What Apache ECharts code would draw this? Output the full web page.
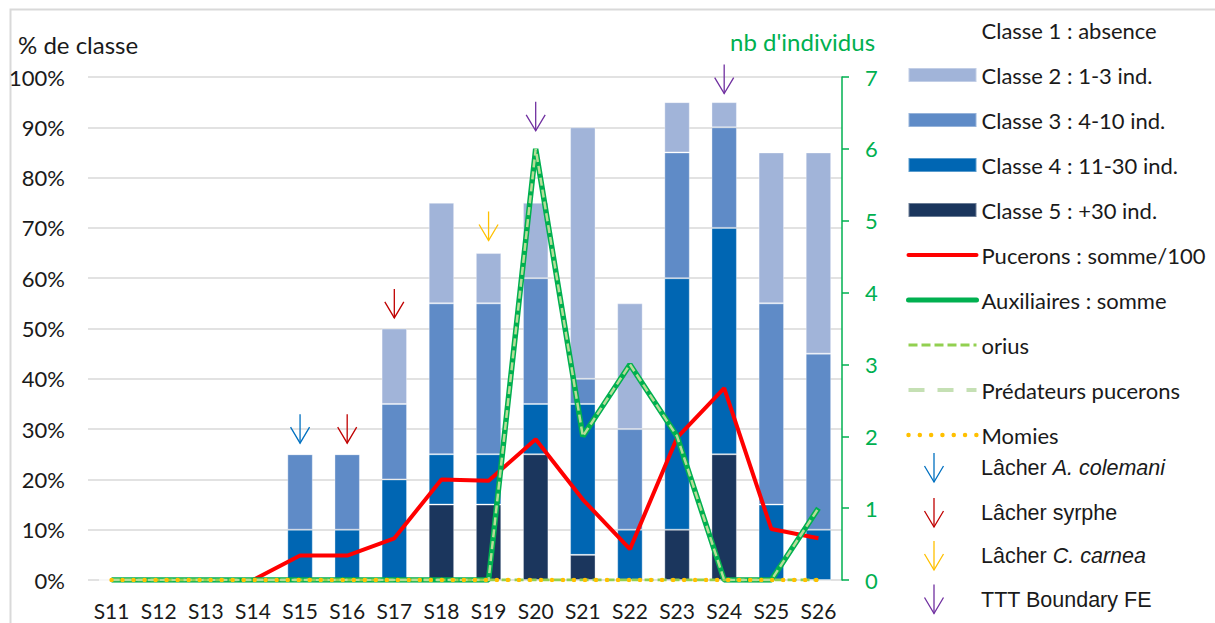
<!DOCTYPE html>
<html>
<head>
<meta charset="utf-8">
<style>html,body{margin:0;padding:0;background:#fff}#c{width:1215px;height:623px}</style>
<script src="https://cdn.jsdelivr.net/npm/echarts@6/dist/echarts.min.js"></script>
</head>
<body>
<div id="c"></div>
<script>
// ---- data ----
const categories = ['S11','S12','S13','S14','S15','S16','S17','S18','S19','S20','S21','S22','S23','S24','S25','S26'];
const classe2 = [0,0,0,0,0,0,15,20,10,15,50,25,10,5,30,40];
const classe3 = [0,0,0,0,15,15,15,30,30,25,5,20,25,20,40,35];
const classe4 = [0,0,0,0,10,10,20,10,10,10,30,10,50,45,15,10];
const classe5 = [0,0,0,0,0,0,0,15,15,25,5,0,10,25,0,0];
const pucerons = [0,0,0,0,0.34,0.34,0.58,1.40,1.38,1.96,1.12,0.43,1.98,2.67,0.71,0.58];
const auxiliaires = [0,0,0,0,0,0,0,0,0,6,2,3,2,0,0,1];
const orius = [0,0,0,0,0,0,0,0,0,0,0,0,0,0,0,0];
const predateurs = [0,0,0,0,0,0,0,0,0,6,2,3,2,0,0,1];
const momies = [0,0,0,0,0,0,0,0,0,0,0,0,0,0,0,0];
const lacherColemani = [['S15', 27.2]];
const lacherSyrphe = [['S16', 27.2], ['S17', 52.1]];
const lacherCarnea = [['S19', 67.5]];
const tttBoundary = [['S20', 89.3], ['S24', 96.7]];
const leftTicks = {min: 0, max: 100, interval: 10};
const rightTicks = {min: 0, max: 7, interval: 1};
const arrowLegendLabels = [
  ['{n|Lâcher }{i|A. colemani}', '#0070c0'],
  ['{n|Lâcher syrphe}', '#c00000'],
  ['{n|Lâcher }{i|C. carnea}', '#ffc000'],
  ['{n|TTT Boundary FE}', '#7030a0']
];

const FONT = 'Lato';
const GREEN = '#00b050';
const TXT = '#1a1a1a';

const rectIcon = 'path://M0,0L68,0L68,14L0,14Z';
const noDot = {opacity: 0};

function arrowRender(params, api) {
  const p = api.coord([api.value(0), api.value(1)]);
  const c = api.visual('color');
  return {
    type: 'group',
    children: [
      {type: 'line', shape: {x1: p[0], y1: p[1] - 29, x2: p[0], y2: p[1]}, style: {stroke: c, lineWidth: 1.3}},
      {type: 'polyline', shape: {points: [[p[0] - 9.5, p[1] - 16], [p[0], p[1]], [p[0] + 9.5, p[1] - 16]]}, style: {stroke: c, fill: null, lineWidth: 1.3}}
    ]
  };
}

// arrow legend drawn as graphic (icon + real text)
const arrowLegendCenters = [468, 513, 556, 599.5];
const richStyles = {
  n: {fontFamily: 'Liberation Sans', fontSize: 21.5, fill: TXT},
  i: {fontFamily: 'Liberation Sans', fontSize: 21.5, fill: TXT, fontStyle: 'italic'}
};
const arrowLegendGraphics = arrowLegendLabels.map(function (it, k) {
  const cy = arrowLegendCenters[k], cx = 934, c = it[1];
  return {
    type: 'group',
    children: [
      {type: 'line', shape: {x1: cx, y1: cy - 15, x2: cx, y2: cy + 14}, style: {stroke: c, lineWidth: 1.3}},
      {type: 'polyline', shape: {points: [[cx - 9.5, cy - 2], [cx, cy + 14], [cx + 9.5, cy - 2]]}, style: {stroke: c, fill: null, lineWidth: 1.3}},
      {type: 'text', x: 981, y: cy, style: {text: it[0], rich: richStyles, verticalAlign: 'middle', align: 'left', fill: TXT,
        fontFamily: 'Liberation Sans', fontSize: 21.5}}
    ]
  };
});

const chart = echarts.init(document.getElementById('c'), null, {renderer: 'svg'});
chart.setOption({
  animation: false,
  backgroundColor: '#fff',
  textStyle: {fontFamily: FONT},
  graphic: [{
    type: 'rect', left: 8, top: 7, shape: {width: 1300, height: 700},
    style: {fill: 'none', stroke: '#d9d9d9', lineWidth: 2}, z: -10
  }].concat(arrowLegendGraphics),
  title: [
    {text: '% de classe', left: 18, top: 32, padding: 0, textStyle: {fontFamily: FONT, fontSize: 24, fontWeight: 'normal', color: TXT}},
    {text: "nb d'individus", left: 730, top: 29, padding: 0, textStyle: {fontFamily: FONT, fontSize: 24, fontWeight: 'normal', color: GREEN}}
  ],
  legend: [{
    orient: 'vertical', left: 906, top: 18, padding: 0, itemWidth: 68, itemHeight: 24, itemGap: 21,
    selectedMode: false,
    textStyle: {fontFamily: FONT, fontSize: 22, color: TXT, lineHeight: 24},
    data: [
      {name: 'Classe 1 : absence', icon: rectIcon, itemStyle: {color: 'rgba(0,0,0,0)'}},
      {name: 'Classe 2 : 1-3 ind.', icon: rectIcon},
      {name: 'Classe 3 : 4-10 ind.', icon: rectIcon},
      {name: 'Classe 4 : 11-30 ind.', icon: rectIcon},
      {name: 'Classe 5 : +30 ind.', icon: rectIcon},
      {name: 'Pucerons : somme/100', itemStyle: noDot, lineStyle: {color: '#ff0000', width: 4, cap: 'round'}},
      {name: 'Auxiliaires : somme', itemStyle: noDot, lineStyle: {color: GREEN, width: 5, cap: 'round'}},
      {name: 'orius', itemStyle: noDot, lineStyle: {color: '#92d050', width: 3, type: [9, 4, 9, 4]}},
      {name: 'Prédateurs pucerons', itemStyle: noDot, lineStyle: {color: '#c5e0b4', width: 4, type: [16, 13]}},
      {name: 'Momies', itemStyle: noDot, lineStyle: {color: '#ffc000', width: 4.5, type: [0.01, 11.3], cap: 'round'}}
    ]
  }],
  grid: {left: 88, right: 373, top: 77, bottom: 43},
  xAxis: {
    type: 'category', data: categories, boundaryGap: true,
    axisLine: {show: false}, axisTick: {show: false},
    axisLabel: {fontFamily: FONT, fontSize: 21, color: TXT, margin: 20}
  },
  yAxis: [{
    type: 'value', min: leftTicks.min, max: leftTicks.max, interval: leftTicks.interval,
    axisLine: {show: false}, axisTick: {show: false},
    axisLabel: {formatter: '{value}%', fontFamily: FONT, fontSize: 22, color: TXT, margin: 23},
    splitLine: {lineStyle: {color: '#d9d9d9', width: 1.5}}
  }, {
    type: 'value', position: 'right', min: rightTicks.min, max: rightTicks.max, interval: rightTicks.interval,
    axisLine: {show: true, lineStyle: {color: GREEN, width: 1.5}},
    axisTick: {show: true, inside: false, length: 7, lineStyle: {color: GREEN, width: 1.5}},
    axisLabel: {fontFamily: FONT, fontSize: 22, color: GREEN, margin: 23},
    splitLine: {show: false}
  }],
  series: [
    {name: 'Classe 1 : absence', type: 'bar', stack: 'c', data: [], itemStyle: {color: 'rgba(0,0,0,0)'}},
    {name: 'Classe 5 : +30 ind.', type: 'bar', stack: 'c', barWidth: '54%', data: classe5,
      itemStyle: {color: '#1b365d', borderColor: 'rgba(255,255,255,0.35)', borderWidth: 1}},
    {name: 'Classe 4 : 11-30 ind.', type: 'bar', stack: 'c', data: classe4,
      itemStyle: {color: '#0066b3', borderColor: 'rgba(255,255,255,0.35)', borderWidth: 1}},
    {name: 'Classe 3 : 4-10 ind.', type: 'bar', stack: 'c', data: classe3,
      itemStyle: {color: '#5f8bc7', borderColor: 'rgba(255,255,255,0.35)', borderWidth: 1}},
    {name: 'Classe 2 : 1-3 ind.', type: 'bar', stack: 'c', data: classe2,
      itemStyle: {color: '#a1b4d9', borderColor: 'rgba(255,255,255,0.35)', borderWidth: 1}},
    {name: 'Pucerons : somme/100', type: 'line', yAxisIndex: 1, data: pucerons, symbol: 'none',
      itemStyle: {color: '#ff0000'}, lineStyle: {color: '#ff0000', width: 4}, z: 3},
    {name: 'Auxiliaires : somme', type: 'line', yAxisIndex: 1, data: auxiliaires, symbol: 'none',
      itemStyle: {color: GREEN}, lineStyle: {color: GREEN, width: 5.5}, z: 4},
    {name: 'orius', type: 'line', yAxisIndex: 1, data: orius, symbol: 'none',
      itemStyle: {color: '#92d050'}, lineStyle: {color: '#92d050', width: 3, type: [9, 4]}, z: 5},
    {name: 'Prédateurs pucerons', type: 'line', yAxisIndex: 1, data: predateurs, symbol: 'none',
      itemStyle: {color: '#b6dd97'}, lineStyle: {color: '#b6dd97', width: 2.5, type: [8, 4]}, z: 6},
    {name: 'Momies', type: 'line', yAxisIndex: 1, data: momies, symbol: 'none',
      itemStyle: {color: '#ffc000'}, lineStyle: {color: '#ffc000', width: 4.5, type: [0.01, 11], cap: 'round'}, z: 7},
    {name: 'Lâcher A. colemani', type: 'custom', yAxisIndex: 0, renderItem: arrowRender, data: lacherColemani,
      itemStyle: {color: '#0070c0'}, z: 8},
    {name: 'Lâcher syrphe', type: 'custom', yAxisIndex: 0, renderItem: arrowRender, data: lacherSyrphe,
      itemStyle: {color: '#c00000'}, z: 8},
    {name: 'Lâcher C. carnea', type: 'custom', yAxisIndex: 0, renderItem: arrowRender, data: lacherCarnea,
      itemStyle: {color: '#ffc000'}, z: 8},
    {name: 'TTT Boundary FE', type: 'custom', yAxisIndex: 0, renderItem: arrowRender, data: tttBoundary,
      itemStyle: {color: '#7030a0'}, z: 8}
  ]
});
</script>
</body>
</html>
